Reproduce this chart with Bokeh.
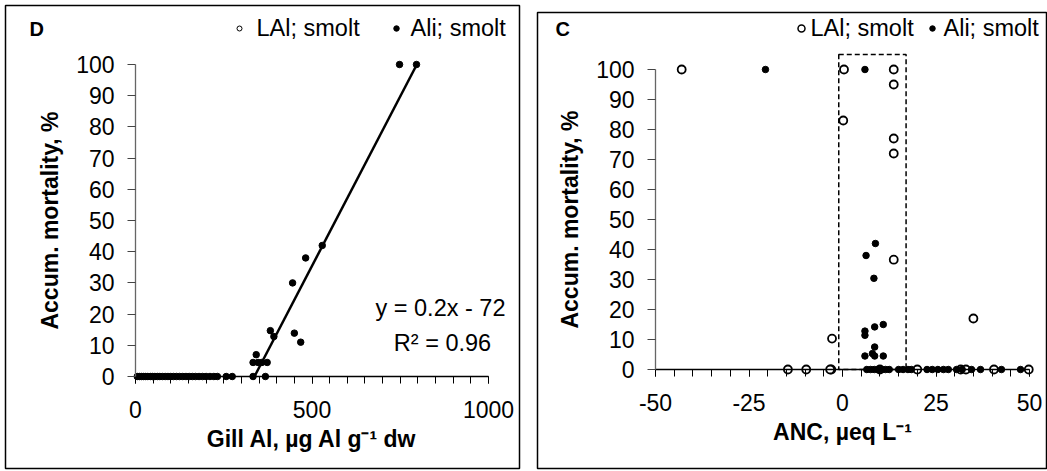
from bokeh.plotting import figure
from bokeh.layouts import row
from bokeh.models import Range1d, FixedTicker
from bokeh.core.properties import value
from bokeh.embed import file_html
from bokeh.resources import INLINE

FONT = "Liberation Sans"

# ---------------- Panel D: mortality vs gill Al ----------------
d_ali_x = [5, 11, 17, 23, 29, 35, 42, 48, 55, 62, 69, 76, 84, 92, 100, 108, 116,
           125, 134, 143, 152, 161, 170, 180, 190, 200, 211, 222, 232, 257, 274,
           333, 368,
           333, 347, 358, 373, 342, 382, 392, 450, 468, 445, 482, 529, 748, 796]
d_ali_y = [0] * 33 + [4.5, 4.5, 4.5, 4.5, 7, 14.7, 12.8, 13.9, 11, 30, 38, 42, 100, 100]
d_trend_x = [337, 797]
d_trend_y = [0, 100]
d_xticks = [0, 500, 1000]
d_xminor = list(range(0, 1001, 50))
yticks = list(range(0, 101, 10))

# ---------------- Panel C: mortality vs ANC ----------------
c_lal_x = [-43, 0.4, 13.7, 13.7, 0.2, 13.7, 13.7, 13.7, -2.8, 35,
           -14.6, -9.7, -3.0, -3.3, 10, 20, 31.6, 33, 40.5, 49.8]
c_lal_y = [100, 100, 100, 95, 83, 77, 72, 36.6, 10.3, 17,
           0, 0, 0, 0, 0, 0, 0, 0, 0, 0]
c_ali_x = [-20.6, 6, 8.8, 6.3, 8.4, 10.9, 8.6, 6, 6, 8.6, 6, 8, 8.6, 10.9,
           6.5, 7.5, 8.5, 9.5, 10.5, 11.5, 12.5, 15, 16.2, 17.5, 18.4, 22.6, 24,
           25.5, 27, 28.3, 30.5, 32, 34.5, 36.9, 42.5, 47.6]
c_ali_y = [100, 100, 42, 38, 30.4, 15, 14.2, 12.8, 11.4, 7.5, 4.5, 5.3, 4.5, 4.5] + [0] * 22
c_box = [-1, 17, 0, 105]  # ANC window: left, right, bottom, top
c_xticks = [-50, -25, 0, 25, 50]
c_xminor = list(range(-50, 51, 5))

TICK_SIZE = "23px"
TITLE_SIZE = "23px"
TEXT_SIZE = "23.5px"


def style_axes(p, xticks, xminor, xbounds, yfix, xlabel):
    p.xgrid.visible = False
    p.ygrid.visible = False
    xa = p.xaxis[0]
    ya = p.yaxis[0]
    xa.fixed_location = 0
    ya.fixed_location = yfix
    xa.bounds = xbounds
    ya.bounds = (0, 100)
    xa.ticker = FixedTicker(ticks=xticks, minor_ticks=xminor)
    ya.ticker = FixedTicker(ticks=yticks, minor_ticks=[])
    xa.major_label_overrides = {t: str(t) for t in xticks}
    for a in (xa, ya):
        a.major_label_text_font = FONT
        a.major_label_text_font_size = TICK_SIZE
        a.major_label_text_color = "black"
        a.axis_label_text_font = FONT
        a.axis_label_text_font_size = TITLE_SIZE
        a.axis_label_text_font_style = "bold"
        a.axis_label_text_color = "black"
        a.major_tick_in = 0
        a.minor_tick_in = 0
    xa.axis_line_color = "black"
    xa.major_tick_line_color = "black"
    xa.minor_tick_line_color = "black"
    xa.axis_line_width = 1.3
    xa.major_tick_out = 7
    xa.minor_tick_out = 7
    xa.major_label_standoff = 17
    xa.axis_label_standoff = 5
    xa.axis_label = xlabel
    ya.axis_line_color = "#666666"
    ya.major_tick_line_color = "#444444"
    ya.axis_line_width = 1.3
    ya.major_tick_out = 8
    ya.major_label_standoff = 13
    ya.axis_label_standoff = 10
    ya.axis_label = "Accum. mortality, %"


def add_text(p, x, y, t, size=TEXT_SIZE, style="normal", align="left"):
    p.text(x=[x], y=[y], text=[t], text_font=value(FONT), text_font_size=value(size),
           text_font_style=style, text_align=align, text_baseline="middle",
           text_color="black")


def no_align(p):
    try:
        p.frame_align = False
    except Exception:
        pass


# ---- left figure ----
# pixel -> data helpers (layout only)
def fx(px):
    return (px - 135) / 0.353


def fy(py):
    return (376 - py) / 3.12


pD = figure(width=528, height=471, output_backend="svg", toolbar_location=None,
            x_range=Range1d(fx(5), fx(519)), y_range=Range1d(fy(468), fy(5)),
            min_border_left=5, min_border_right=9, min_border_top=5, min_border_bottom=3,
            outline_line_color="black", outline_line_width=1.5,
            background_fill_color="white", border_fill_color="white")
no_align(pD)
style_axes(pD, d_xticks, d_xminor, (0, 1000), 0, "Gill Al, µg Al g⁻¹ dw")
pD.line(d_trend_x, d_trend_y, line_color="black", line_width=2.5)
pD.scatter(d_ali_x, d_ali_y, size=6.5, marker="circle", fill_color="black", line_color="black")
add_text(pD, fx(29), fy(28), "D", size="20px", style="bold")
pD.scatter([fx(239)], [fy(28)], size=5, marker="circle", fill_color="white",
           line_color="black", line_width=1)
add_text(pD, fx(256), fy(27), "LAl; smolt")
pD.scatter([fx(396)], [fy(28)], size=5.5, marker="circle", fill_color="black", line_color="black")
add_text(pD, fx(410), fy(27), "Ali; smolt")
add_text(pD, fx(440), fy(307), "y = 0.2x - 72", align="center")
add_text(pD, fx(442), fy(342), "R² = 0.96", align="center")


# ---- right figure ----
def gx(px):
    return -50 + (px - 655) / 3.74


def gy(py):
    return (369 - py) / 3.0


pC = figure(width=519, height=471, output_backend="svg", toolbar_location=None,
            x_range=Range1d(gx(537), gx(1046)), y_range=Range1d(gy(468), gy(12)),
            min_border_left=9, min_border_right=1, min_border_top=12, min_border_bottom=3,
            outline_line_color="black", outline_line_width=1.5,
            background_fill_color="white", border_fill_color="white")
no_align(pC)
style_axes(pC, c_xticks, c_xminor, (-50, 50), -50, "ANC, µeq L⁻¹")
pC.quad(left=[c_box[0]], right=[c_box[1]], bottom=[c_box[2]], top=[c_box[3]],
        fill_color=None, line_color="black", line_width=1.5, line_dash="5 3")
pC.scatter(c_lal_x, c_lal_y, size=8, marker="circle", fill_color="white",
           line_color="black", line_width=1.8)
pC.scatter(c_ali_x, c_ali_y, size=6.5, marker="circle", fill_color="black", line_color="black")
add_text(pC, gx(555), gy(28), "C", size="20px", style="bold")
pC.scatter([gx(801)], [gy(28)], size=7, marker="circle", fill_color="white",
           line_color="black", line_width=1.5)
add_text(pC, gx(810), gy(27.5), "LAl; smolt")
pC.scatter([gx(932)], [gy(28)], size=5.5, marker="circle", fill_color="black", line_color="black")
add_text(pC, gx(943), gy(27.5), "Ali; smolt")

layout = row(pD, pC)
open("out.html", "w").write(file_html(layout, INLINE))
